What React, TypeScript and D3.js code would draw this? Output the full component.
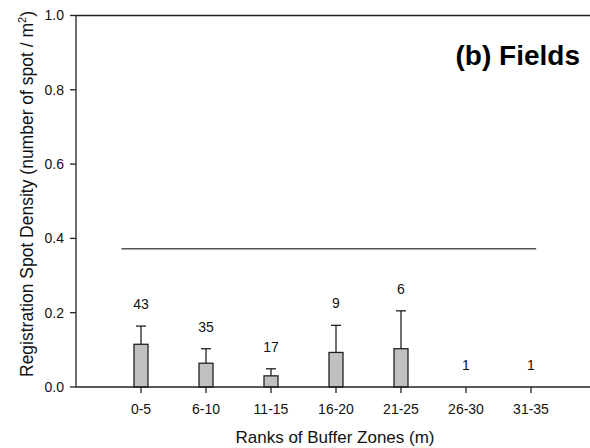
import React from "react";
import * as d3 from "d3";

// Buffer-zone ranks (m) and the registration spot density in each
const categories = ["0-5", "6-10", "11-15", "16-20", "21-25", "26-30", "31-35"];
const meanDensity = [0.115, 0.064, 0.03, 0.093, 0.103, 0, 0];
const sdDensity = [0.049, 0.039, 0.019, 0.073, 0.102, 0, 0];
const sampleCounts = [43, 35, 17, 9, 6, 1, 1];
const yTicks = [0, 0.2, 0.4, 0.6, 0.8, 1.0];

// Overall reference density and the category span it covers
const referenceDensity = 0.372;
const referenceSpan = [-0.3, 6.08];

const W = 590;
const H = 448;
const FONT = "'Liberation Sans', Arial, Helvetica, sans-serif";

export default function App() {
  const x = d3.scaleLinear().domain([-1, 7]).range([76, 596]);
  const y = d3.scaleLinear().domain([0, 1]).range([387, 15.5]);
  const barW = 14;
  const capW = 10;
  const x0 = x.range()[0];

  return (
    <svg
      width={W}
      height={H}
      style={{ position: "absolute", left: 0, top: 0, background: "#fff" }}
      fontFamily={FONT}
    >
      {/* frame: top line, left axis */}
      <line x1={x0} x2={W} y1={y(1)} y2={y(1)} stroke="#222" strokeWidth={1.3} />
      <line x1={x0} x2={x0} y1={y(1)} y2={y(0)} stroke="#222" strokeWidth={1.3} />

      {/* bars */}
      {categories.map((c, i) =>
        meanDensity[i] > 0 ? (
          <rect
            key={"b" + c}
            x={x(i) - barW / 2}
            y={y(meanDensity[i])}
            width={barW}
            height={y(0) - y(meanDensity[i])}
            fill="#c0c0c0"
            stroke="#222"
            strokeWidth={1.3}
          />
        ) : null
      )}

      {/* upper error bars */}
      {categories.map((c, i) =>
        sdDensity[i] > 0 ? (
          <g key={"e" + c} stroke="#222" strokeWidth={1.3}>
            <line x1={x(i)} x2={x(i)} y1={y(meanDensity[i])} y2={y(meanDensity[i] + sdDensity[i])} />
            <line
              x1={x(i) - capW / 2}
              x2={x(i) + capW / 2}
              y1={y(meanDensity[i] + sdDensity[i])}
              y2={y(meanDensity[i] + sdDensity[i])}
            />
          </g>
        ) : null
      )}

      {/* sample counts above each rank */}
      {categories.map((c, i) => (
        <text
          key={"n" + c}
          x={x(i)}
          y={y(meanDensity[i] + sdDensity[i]) - 17}
          textAnchor="middle"
          fontSize={14}
          fill="#111"
        >
          {sampleCounts[i]}
        </text>
      ))}

      {/* reference density line */}
      <line
        x1={x(referenceSpan[0])}
        x2={x(referenceSpan[1])}
        y1={y(referenceDensity)}
        y2={y(referenceDensity)}
        stroke="#555"
        strokeWidth={1.5}
      />

      {/* bottom axis */}
      <line x1={x0} x2={W} y1={y(0)} y2={y(0)} stroke="#222" strokeWidth={1.3} />

      {/* y ticks */}
      {yTicks.map((t) => (
        <g key={"y" + t}>
          <line x1={x0 - 6} x2={x0} y1={y(t)} y2={y(t)} stroke="#222" strokeWidth={1.3} />
          <text x={x0 - 12} y={y(t)} dy="0.35em" textAnchor="end" fontSize={14} fill="#111">
            {d3.format(".1f")(t)}
          </text>
        </g>
      ))}

      {/* x ticks */}
      {categories.map((c, i) => (
        <g key={"x" + c}>
          <line x1={x(i)} x2={x(i)} y1={y(0)} y2={y(0) + 6} stroke="#222" strokeWidth={1.3} />
          <text x={x(i)} y={414} textAnchor="middle" fontSize={14} fill="#111">
            {c}
          </text>
        </g>
      ))}

      {/* axis titles */}
      <text x={335} y={443} textAnchor="middle" fontSize={17} fill="#111">
        Ranks of Buffer Zones (m)
      </text>
      <text
        transform={`translate(33, 194) rotate(-90)`}
        textAnchor="middle"
        fontSize={17.5}
        fill="#111"
      >
        Registration Spot Density (number of spot / m
        <tspan fontSize={11} dy={-7}>2</tspan>
        <tspan dy={7}>)</tspan>
      </text>

      {/* panel label */}
      <text x={580} y={65} textAnchor="end" fontSize={28} fontWeight="bold" fill="#000">
        (b) Fields
      </text>
    </svg>
  );
}
